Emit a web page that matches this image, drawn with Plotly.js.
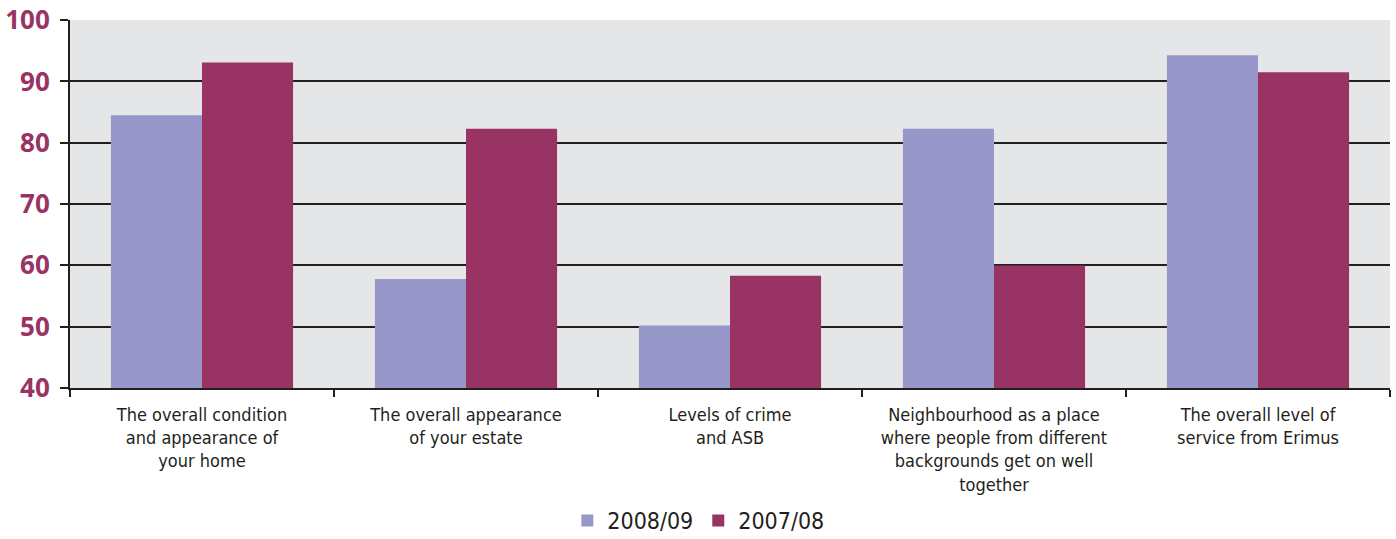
<!DOCTYPE html>
<html>
<head>
<meta charset="utf-8">
<script src="https://cdn.plot.ly/plotly-3.0.1.min.js"></script>
<style>html,body{margin:0;padding:0;background:#fff;}#chart{width:1396px;height:539px;}</style>
</head>
<body>
<div id="chart"></div>
<script>
const categories = [
  "The overall condition<br>and appearance of<br>your home",
  "The overall appearance<br>of your estate",
  "Levels of crime<br>and ASB",
  "Neighbourhood as a place<br>where people from different<br>backgrounds get on well<br>together",
  "The overall level of<br>service from Erimus"
];
const series2008 = [84.5, 57.8, 50.2, 82.3, 94.3];
const series2007 = [93.1, 82.3, 58.3, 60.0, 91.5];
const seriesNames = ["2008/09", "2007/08"];
const yTicks = [40, 50, 60, 70, 80, 90, 100];

const labelFont = "Liberation Sans Narrow, DejaVu Sans Condensed, Arial Narrow, sans-serif";

const data = [
  {type: "bar", name: seriesNames[0], x: categories, y: series2008,
   marker: {color: "#9797C9", line: {width: 0}}},
  {type: "bar", name: seriesNames[1], x: categories, y: series2007,
   marker: {color: "#983364", line: {width: 0}}}
];

const layout = {
  width: 1396, height: 539,
  margin: {l: 70, r: 6, t: 20, b: 151, autoexpand: false},
  paper_bgcolor: "#ffffff",
  plot_bgcolor: "#E5E6E8",
  barmode: "group",
  bargap: 0.31,
  bargroupgap: 0,
  showlegend: true,
  legend: {orientation: "h", x: 0.476, xanchor: "center",
           y: -0.36, yanchor: "middle",
           font: {family: labelFont, size: 23, color: "#231F20"},
           traceorder: "normal"},
  xaxis: {
    type: "category",
    tickson: "boundaries",
    ticks: "outside", ticklen: 7, tickwidth: 2, tickcolor: "#231F20",
    showline: true, linecolor: "#231F20", linewidth: 2,
    showgrid: false,
    tickangle: 0,
    automargin: false,
    tickfont: {family: labelFont, size: 18, color: "#231F20"},
    ticklabelstandoff: 9,
    fixedrange: true
  },
  yaxis: {
    range: [40, 100.03],
    tickvals: yTicks,
    ticktext: yTicks.map(String),
    ticks: "outside", ticklen: 8, tickwidth: 2, tickcolor: "#231F20",
    showline: true, linecolor: "#231F20", linewidth: 2,
    showgrid: true, gridcolor: "#231F20", gridwidth: 2,
    zeroline: false,
    automargin: false,
    ticklabeloverflow: "allow",
    tickfont: {family: "Open Sans, sans-serif", size: 26, color: "#983364", weight: "bold"},
    ticklabelstandoff: 5,
    layer: "below traces",
    fixedrange: true
  }
};

Plotly.newPlot("chart", data, layout, {displayModeBar: false, staticPlot: true});
</script>
</body>
</html>
